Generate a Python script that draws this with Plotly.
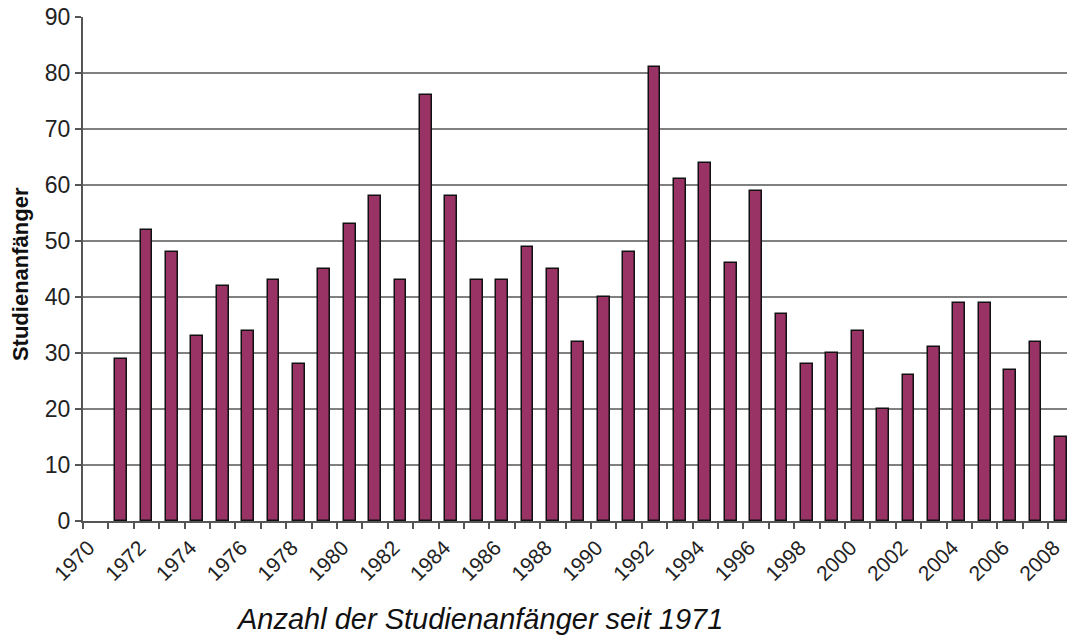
import plotly.graph_objects as go

years = list(range(1971, 2009))
students = [29, 52, 48, 33, 42, 34, 43, 28, 45, 53,
            58, 43, 76, 58, 43, 43, 49, 45, 32, 40,
            48, 81, 61, 64, 46, 59, 37, 28, 30, 34,
            20, 26, 31, 39, 39, 27, 32, 15]
tick_years = list(range(1970, 2009, 2))

font_family = "Liberation Sans, Arial, sans-serif"

fig = go.Figure()

fig.add_trace(go.Bar(
    x=years,
    y=students,
    width=0.47,
    marker=dict(color="#993366", line=dict(color="#111111", width=1.5)),
))

fig.update_layout(
    width=1067,
    height=635,
    margin=dict(l=83, r=0, t=17, b=114),
    plot_bgcolor="white",
    paper_bgcolor="white",
    showlegend=False,
    font=dict(family=font_family, color="#222222", size=22),
    bargap=0,
)

fig.update_xaxes(
    range=[1969.5, 2008.24],
    automargin=False,
    tickmode="array",
    tickvals=tick_years,
    ticktext=[str(y) for y in tick_years],
    tickangle=-45,
    ticklabeloverflow="allow",
    ticklabelshift=-7,
    ticklabelstandoff=4,
    ticks="",
    showgrid=False,
    showline=True,
    linecolor="#555555",
    linewidth=2,
    minor=dict(tickmode="linear", tick0=1969.5, dtick=1, ticks="outside",
               ticklen=6, tickcolor="#555555", tickwidth=1.5, showgrid=False),
    tickfont=dict(size=21),
)

fig.update_yaxes(
    range=[0, 90],
    automargin=False,
    dtick=10,
    showgrid=True,
    gridcolor="#808080",
    gridwidth=1.5,
    showline=True,
    linecolor="#555555",
    linewidth=2,
    ticks="outside",
    ticklen=6,
    tickcolor="#555555",
    tickwidth=1.5,
    zeroline=False,
    tickfont=dict(size=23),
)

# y axis title
fig.add_annotation(
    text="<b>Studienanfänger</b>",
    xref="paper", yref="paper",
    x=-0.064, y=0.49,
    xanchor="center", yanchor="middle",
    textangle=-90,
    showarrow=False,
    font=dict(size=22, color="#111111", family=font_family),
)

# caption under the chart
fig.add_annotation(
    text="<i>Anzahl der Studienanfänger seit 1971</i>",
    xref="paper", yref="paper",
    x=0.403, y=-0.23,
    xanchor="center", yanchor="bottom",
    showarrow=False,
    font=dict(size=29, color="#111111", family=font_family),
)

fig.write_html(
    "out.html",
    config={"displayModeBar": False},
    post_script="document.body.style.margin='0';document.body.style.overflow='hidden';",
)
